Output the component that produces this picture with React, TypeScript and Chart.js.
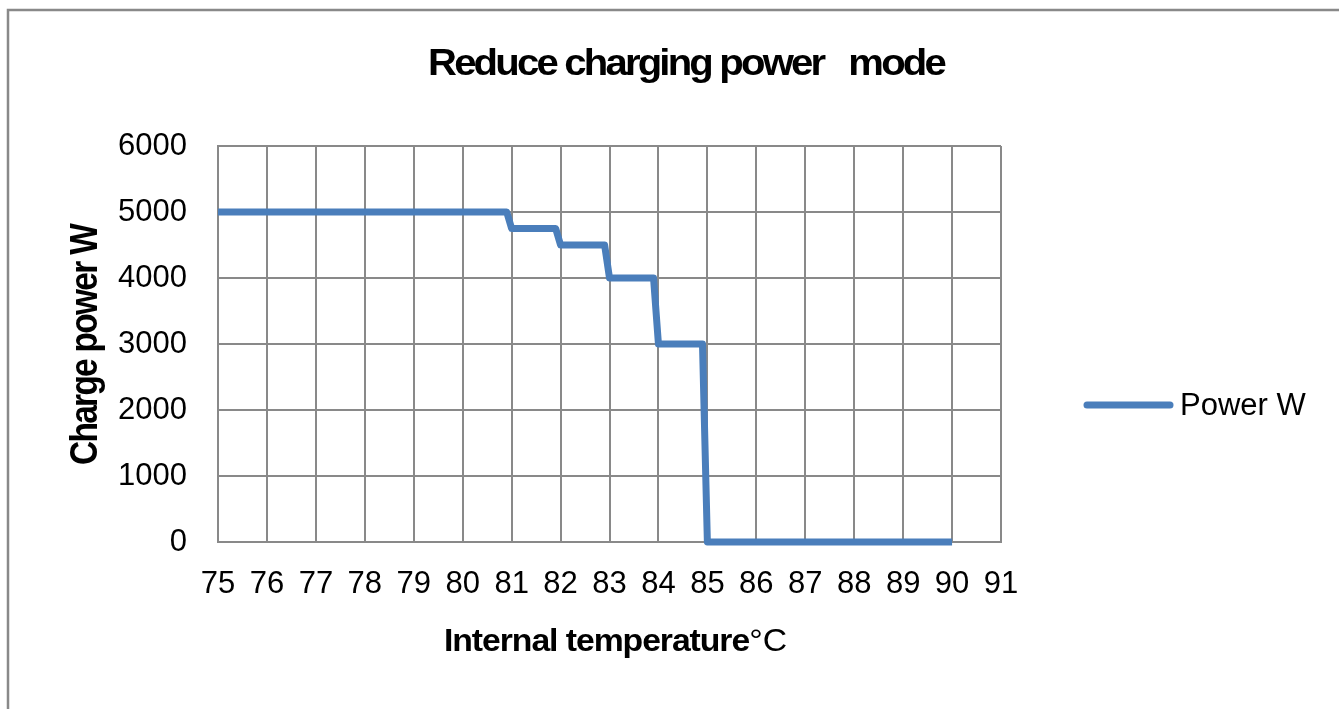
import { useEffect, useRef } from "react";
import { Chart, registerables } from "chart.js";

Chart.register(...registerables);

const FONT = '"Liberation Sans", Arial, Helvetica, sans-serif';
const GRID = "#898989";
const LINE = "#4A7EBB";

const chartTitle = "Reduce charging power   mode";
const xTitleMain = "Internal temperature";
const xTitleUnit = "°C";
const yTitle = "Charge power W";
const seriesLabel = "Power W";

const temperatures = [75, 76, 77, 78, 79, 80, 80.9, 81, 81.9, 82, 82.9, 83, 83.9, 84, 84.9, 85, 86, 87, 88, 89, 90];
const powerW = [5000, 5000, 5000, 5000, 5000, 5000, 5000, 4750, 4750, 4500, 4500, 4000, 4000, 3000, 3000, 0, 0, 0, 0, 0, 0];
const xTicks = [75, 76, 77, 78, 79, 80, 81, 82, 83, 84, 85, 86, 87, 88, 89, 90, 91];
const yTicks = [0, 1000, 2000, 3000, 4000, 5000, 6000];

const framePlugin = {
  id: "frame",
  beforeDraw(chart: any) {
    const ctx = chart.ctx;
    ctx.save();
    ctx.strokeStyle = GRID;
    ctx.lineWidth = 2.5;
    ctx.beginPath();
    ctx.moveTo(8, chart.height);
    ctx.lineTo(8, 10);
    ctx.lineTo(chart.width, 10);
    ctx.stroke();
    ctx.restore();
  },
  afterDraw(chart: any) {
    const ctx = chart.ctx;
    const area = chart.chartArea;
    // chart title
    ctx.save();
    ctx.font = `bold 36px ${FONT}`;
    (ctx as any).letterSpacing = "-2.5px";
    const w = ctx.measureText(chartTitle).width;
    ctx.translate(686, 75);
    ctx.scale(516 / w, 1);
    ctx.textAlign = "center";
    ctx.textBaseline = "alphabetic";
    ctx.fillStyle = "#000";
    ctx.fillText(chartTitle, 0, 0);
    ctx.restore();

    // x axis title
    ctx.save();
    ctx.fillStyle = "#000";
    ctx.textBaseline = "alphabetic";
    ctx.textAlign = "left";
    ctx.font = `bold 32px ${FONT}`;
    (ctx as any).letterSpacing = "-1px";
    const wMain = ctx.measureText(xTitleMain).width;
    ctx.font = `32px ${FONT}`;
    (ctx as any).letterSpacing = "0px";
    const wUnit = ctx.measureText(xTitleUnit).width;
    const sx = 343 / (wMain + wUnit);
    ctx.translate(444, 651);
    ctx.scale(sx, 1);
    ctx.font = `bold 32px ${FONT}`;
    (ctx as any).letterSpacing = "-1px";
    ctx.fillText(xTitleMain, 0, 0);
    ctx.font = `32px ${FONT}`;
    (ctx as any).letterSpacing = "0px";
    ctx.fillText(xTitleUnit, wMain, 0);
    ctx.restore();

    // y axis title
    ctx.save();
    ctx.fillStyle = "#000";
    ctx.font = `bold 39px ${FONT}`;
    (ctx as any).letterSpacing = "-2px";
    const wy = ctx.measureText(yTitle).width;
    ctx.translate(86, (area.top + area.bottom) / 2 + 1);
    ctx.rotate(-Math.PI / 2);
    ctx.scale(240 / wy, 1);
    ctx.textAlign = "center";
    ctx.textBaseline = "middle";
    ctx.fillText(yTitle, 0, 0);
    ctx.restore();

    // legend
    const ds = chart.data.datasets[0];
    ctx.save();
    ctx.strokeStyle = ds.borderColor;
    ctx.lineWidth = 7;
    ctx.lineCap = "round";
    ctx.beginPath();
    ctx.moveTo(1087, 405);
    ctx.lineTo(1170, 405);
    ctx.stroke();
    ctx.font = `31px ${FONT}`;
    ctx.fillStyle = "#000";
    ctx.textAlign = "left";
    ctx.textBaseline = "middle";
    ctx.fillText(ds.label, 1180, 406);
    ctx.restore();
  },
};

export default function App() {
  const ref = useRef<HTMLCanvasElement | null>(null);

  useEffect(() => {
    if (!ref.current) return;
    const chart = new Chart(ref.current, {
      type: "scatter",
      data: {
        datasets: [
          {
            label: seriesLabel,
            data: temperatures.map((x, i) => ({ x, y: powerW[i] })),
            showLine: true,
            borderColor: LINE,
            backgroundColor: LINE,
            borderWidth: 7,
            pointRadius: 0,
            pointHoverRadius: 0,
            borderJoinStyle: "round",
            borderCapStyle: "butt",
            tension: 0,
            fill: false,
            clip: 10,
          } as any,
        ],
      },
      options: {
        responsive: false,
        animation: false,
        devicePixelRatio: 1,
        events: [],
        elements: {
          line: { borderWidth: 7, borderColor: LINE, borderJoinStyle: "round" },
        },
        layout: { padding: { top: 146, right: 338, bottom: 0, left: 0 } },
        plugins: {
          legend: { display: false },
          title: { display: false },
          tooltip: { enabled: false },
        },
        scales: {
          x: {
            type: "linear",
            min: 75,
            max: 91,
            afterBuildTicks: (s: any) => {
              s.ticks = xTicks.map((v) => ({ value: v }));
            },
            afterFit: (s: any) => {
              s.height = 167;
            },
            grid: { color: GRID, lineWidth: 2, drawTicks: false },
            border: { color: GRID, width: 2 },
            ticks: {
              padding: 24,
              color: "#000",
              font: { family: FONT, size: 31 },
              maxRotation: 0,
              autoSkip: false,
              callback: (v: any) => String(v),
            },
            title: { display: false },
          },
          y: {
            type: "linear",
            min: 0,
            max: 6000,
            afterBuildTicks: (s: any) => {
              s.ticks = yTicks.map((v) => ({ value: v }));
            },
            afterFit: (s: any) => {
              s.width = 218;
            },
            grid: { color: GRID, lineWidth: 2, drawTicks: false },
            border: { color: GRID, width: 2 },
            ticks: {
              padding: 31,
              color: "#000",
              font: { family: FONT, size: 31 },
              autoSkip: false,
              callback: (v: any) => String(v),
            },
            title: { display: false },
          },
        },
      },
      plugins: [framePlugin],
    });
    return () => chart.destroy();
  }, []);

  return (
    <div style={{ position: "absolute", left: 0, top: 0, width: 1339, height: 709, background: "#fff" }}>
      <canvas ref={ref} width={1339} height={709} style={{ display: "block" }} />
    </div>
  );
}
